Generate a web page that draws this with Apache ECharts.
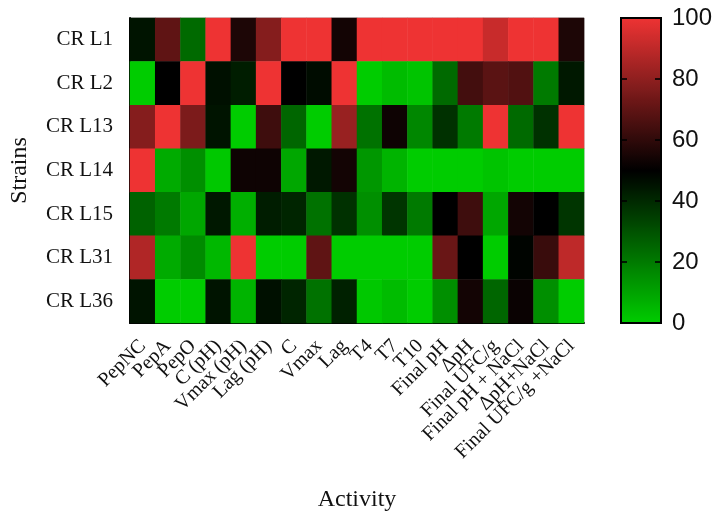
<!DOCTYPE html>
<html><head><meta charset="utf-8">
<script src="https://cdn.jsdelivr.net/npm/echarts@6/dist/echarts.min.js"></script>
<style>html,body{margin:0;padding:0;background:#fff}#c{width:716px;height:517px}</style>
</head><body><div id="c"></div>
<script>
const activities = ['PepNC','PepA','PepO','C (pH)','Vmax (pH)','Lag (pH)','C','Vmax','Lag','T4','T7','T10','Final pH','\u0394pH','Final UFC/g','Final pH + NaCl','\u0394pH+NaCl','Final UFC/g +NaCl'];
const strains = ['CR L1','CR L2','CR L13','CR L14','CR L15','CR L31','CR L36'];
const crL1  = [45, 70, 24, 100, 56, 78, 100, 100, 54, 100, 100, 100, 100, 100, 92, 100, 100, 56];
const crL2  = [0, 50, 100, 46, 43, 100, 50, 47, 100, 0, 4, 2, 24, 64, 69, 67, 20, 44];
const crL13 = [78, 100, 76, 45, 0, 63, 25, 0, 82, 22, 53, 17, 38, 20, 100, 24, 38, 100];
const crL14 = [100, 8, 15, 1, 53, 53, 9, 44, 54, 13, 6, 0, 0, 0, 2, 0, 0, 0];
const crL15 = [26, 20, 9, 44, 7, 43, 41, 22, 38, 15, 37, 20, 50, 63, 9, 54, 50, 37];
const crL31 = [87, 8, 16, 5, 100, 0, 0, 70, 0, 0, 0, 0, 72, 50, 0, 49, 62, 90];
const crL36 = [45, 0, 0, 45, 6, 46, 41, 22, 42, 1, 4, 0, 15, 54, 25, 52, 15, 0];
const rows = [crL1, crL2, crL13, crL14, crL15, crL31, crL36];
const scaleTicks = [0, 20, 40, 60, 80, 100];
const innerTicks = [20, 40, 60, 80];

const data = [];
rows.forEach((r, yi) => r.forEach((v, xi) => data.push([xi, yi, v])));

const serif = 'Liberation Serif';
const chart = echarts.init(document.getElementById('c'), null, {renderer: 'canvas'});
chart.setOption({
  animation: false,
  backgroundColor: '#fff',
  grid: [
    {left: 127, top: 18, width: 457, height: 305, show: true, borderColor: '#aaa', borderWidth: 1, backgroundColor: 'transparent'},
    {left: 621, top: 18, width: 40, height: 305, show: false}
  ],
  xAxis: [
    {type: 'category', data: activities, gridIndex: 0, position: 'bottom',
     axisLine: {show: true, lineStyle: {color: '#000', width: 2}}, axisTick: {show: false},
     splitLine: {show: false},
     axisLabel: {rotate: 45, margin: 20, fontFamily: serif, fontSize: 20, color: '#111', interval: 0},
     name: 'Activity', nameLocation: 'middle', nameGap: 165,
     nameTextStyle: {fontFamily: serif, fontSize: 24, color: '#111'}},
    {type: 'value', gridIndex: 1, show: false, min: 0, max: 1}
  ],
  yAxis: [
    {type: 'category', data: strains, inverse: true, gridIndex: 0,
     axisLine: {show: true, lineStyle: {color: '#000', width: 2}}, axisTick: {show: false},
     axisLabel: {margin: 17, fontFamily: serif, fontSize: 21, color: '#111'},
     name: 'Strains', nameLocation: 'middle', nameGap: 98,
     nameTextStyle: {fontFamily: serif, fontSize: 24, color: '#111'}},
    {type: 'value', gridIndex: 1, position: 'right', min: 0, max: 100, interval: 20,
     axisLine: {show: false}, splitLine: {show: false}, axisTick: {show: false},
     axisLabel: {margin: 11, fontFamily: 'Liberation Sans', fontSize: 24, color: '#111',
       formatter: v => scaleTicks.includes(v) ? String(v) : ''}}
  ],
  visualMap: {
    type: 'continuous', min: 0, max: 100, calculable: false, seriesIndex: 0,
    left: 621, top: 18, itemWidth: 40, itemHeight: 305, padding: 0,
    inRange: {color: ['#00cc00', '#000000', '#ee3333']},
    text: null, showLabel: false
  },
  graphic: [{
    type: 'rect', zlevel: 1, z: 100,
    shape: {x: 621, y: 18, width: 40, height: 305},
    style: {fill: 'none', stroke: '#000', lineWidth: 2}
  }],
  series: [
    {type: 'heatmap', xAxisIndex: 0, yAxisIndex: 0, data: data,
     itemStyle: {borderWidth: 0}, emphasis: {disabled: true}},
    {type: 'scatter', xAxisIndex: 1, yAxisIndex: 1, zlevel: 1, silent: true,
     data: innerTicks.map(v => [0, v]), symbol: 'rect', symbolSize: [6, 2], symbolOffset: [3, 0],
     itemStyle: {color: '#000'}},
    {type: 'scatter', xAxisIndex: 1, yAxisIndex: 1, zlevel: 1, silent: true,
     data: innerTicks.map(v => [1, v]), symbol: 'rect', symbolSize: [6, 2], symbolOffset: [-3, 0],
     itemStyle: {color: '#000'}}
  ]
});
</script></body></html>
